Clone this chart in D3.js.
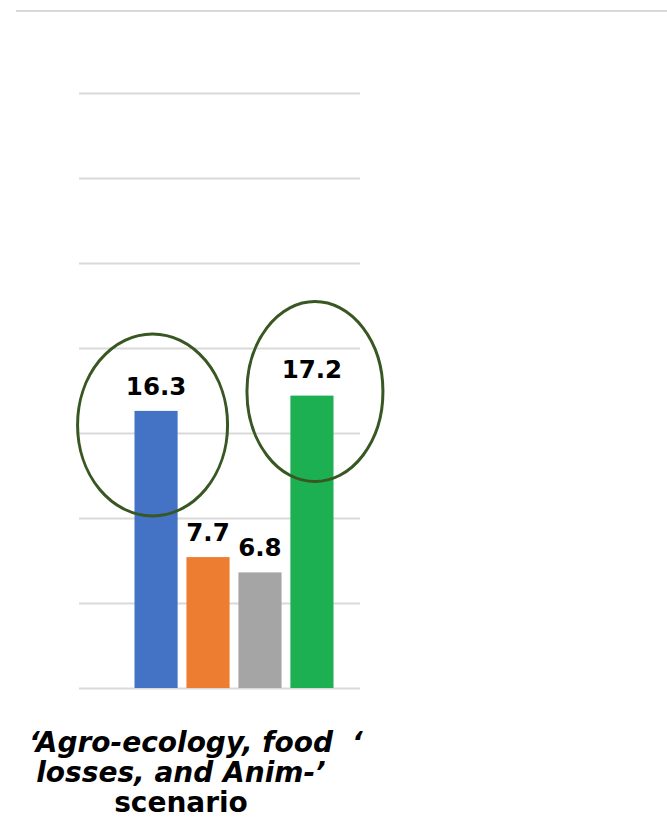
<!DOCTYPE html>
<html>
<head>
<meta charset="utf-8">
<script src="https://cdn.jsdelivr.net/npm/d3@7"></script>
<style>
  body { margin: 0; background: #fff; }
  svg { display: block; }
</style>
</head>
<body>
<div id="chart"></div>
<script>
// data
var series = ["s1", "s2", "s3", "s4"];
var values = [16.3, 7.7, 6.8, 17.2];
var colors = ["#4472c4", "#ed7d31", "#a5a5a5", "#1db053"];
var yTicks = [0, 5, 10, 15, 20, 25, 30, 35];
var categoryLabel = ["\u2018Agro-ecology, food", "losses, and Anim-\u2019", "scenario"];
var circled = ["s1", "s4"];

var W = 667, H = 830;

var svg = d3.select("#chart")
  .append("svg")
    .attr("width", W)
    .attr("height", H);

// thin rule at the very top
svg.append("line")
  .attr("x1", 16).attr("x2", W)
  .attr("y1", 11).attr("y2", 11)
  .style("stroke", "#d9d9d9")
  .style("stroke-width", 2);

var y = d3.scaleLinear()
  .domain([0, 35])
  .range([688, 93]);

var x = d3.scaleBand()
  .domain(series)
  .range([134.5, 333.5])
  .paddingInner(0.17);

// gridlines
var grid = svg.append("g")
  .attr("transform", "translate(79,0)")
  .call(d3.axisLeft(y).tickValues(yTicks).tickSize(-281).tickFormat(""));
grid.select(".domain").remove();
grid.selectAll(".tick line")
  .style("stroke", "#d9d9d9")
  .style("stroke-width", 2);

var data = series.map(function (s, i) { return {key: s, value: values[i], color: colors[i]}; });

// bars
svg.append("g")
  .selectAll("rect")
  .data(data)
  .enter()
  .append("rect")
    .attr("x", function (d) { return x(d.key); })
    .attr("y", function (d) { return y(d.value); })
    .attr("width", x.bandwidth())
    .attr("height", function (d) { return y(0) - y(d.value); })
    .style("fill", function (d) { return d.color; });

// value labels
svg.append("g")
  .selectAll("text")
  .data(data)
  .enter()
  .append("text")
    .attr("x", function (d) { return x(d.key) + x.bandwidth() / 2; })
    .attr("y", function (d) { return y(d.value) - (d.key === "s4" ? 18 : 16); })
    .attr("text-anchor", "middle")
    .style("font-family", "'DejaVu Sans', Verdana, sans-serif")
    .style("font-weight", "bold")
    .style("font-size", "24.5px")
    .style("fill", "#000")
    .text(function (d) { return d.value.toFixed(1); });

// hand-drawn style ellipses round the two tall bars
var ellipseShape = {s1: {dx: -3.5, dy: 14, rx: 75, ry: 91}, s4: {dx: 3, dy: -4, rx: 68, ry: 90}};
svg.append("g")
  .selectAll("ellipse")
  .data(data.filter(function (d) { return circled.indexOf(d.key) >= 0; }))
  .enter()
  .append("ellipse")
    .attr("cx", function (d) { return x(d.key) + x.bandwidth() / 2 + ellipseShape[d.key].dx; })
    .attr("cy", function (d) { return y(d.value) + ellipseShape[d.key].dy; })
    .attr("rx", function (d) { return ellipseShape[d.key].rx; })
    .attr("ry", function (d) { return ellipseShape[d.key].ry; })
    .style("fill", "none")
    .style("stroke", "#385723")
    .style("stroke-width", 3);

// category label
var lab = svg.append("g")
  .style("font-family", "'DejaVu Sans', Verdana, sans-serif")
  .style("font-weight", "bold")
  .style("font-size", "28px")
  .style("fill", "#000");
lab.selectAll("text")
  .data(categoryLabel)
  .enter()
  .append("text")
    .attr("x", 181)
    .attr("y", function (d, i) { return 752 + i * 30; })
    .attr("text-anchor", "middle")
    .style("font-style", function (d, i) { return i < 2 ? "italic" : "normal"; })
    .text(function (d) { return d; });

// start of the next (cropped) category label
lab.append("text")
  .attr("x", 352)
  .attr("y", 752)
  .style("font-style", "italic")
  .text("\u2018");
</script>
</body>
</html>
